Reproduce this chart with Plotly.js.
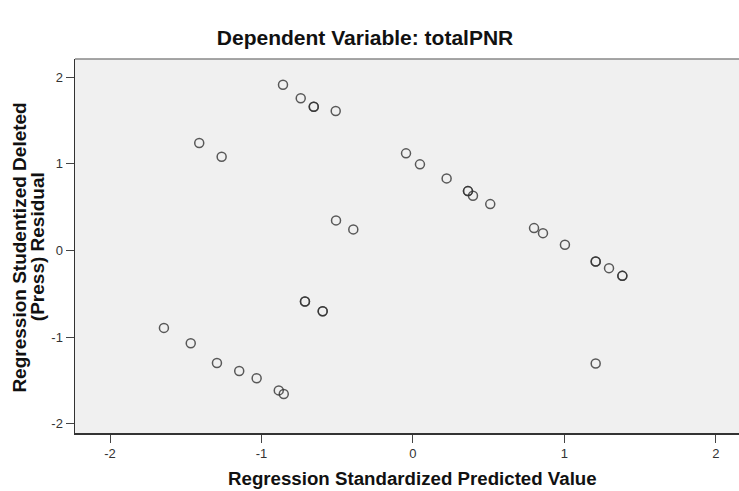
<!DOCTYPE html>
<html>
<head>
<meta charset="utf-8">
<script src="https://cdn.plot.ly/plotly-3.0.1.min.js"></script>
<style>html,body{margin:0;padding:0;background:#fff;}#chart{width:739px;height:491px;}</style>
</head>
<body>
<div id="chart"></div>
<script>
// Regression Standardized Predicted Value (x) vs Studentized Deleted (Press) Residual (y)
const predicted = [
  -0.858, -0.741, -0.655, -0.655, -0.510, -1.411, -1.263,
  -0.046, 0.046, 0.222, 0.363, 0.363, 0.396, 0.510, 0.799, 0.858, 1.003,
  1.206, 1.206, 1.294, 1.382, 1.382,
  -0.508, -0.394, -0.713, -0.713, -0.596, -0.596,
  -1.644, -1.467, -1.294, -1.147, -1.032, -0.886, -0.853, 1.206
];
const residual = [
  1.914, 1.757, 1.660, 1.660, 1.611, 1.241, 1.083,
  1.122, 0.995, 0.833, 0.686, 0.686, 0.632, 0.536, 0.259, 0.201, 0.066,
  -0.126, -0.126, -0.203, -0.292, -0.292,
  0.348, 0.244, -0.588, -0.588, -0.700, -0.700,
  -0.893, -1.070, -1.298, -1.390, -1.474, -1.614, -1.656, -1.304
];
const xTickVals = [-2, -1, 0, 1, 2];
const xTickText = ["-2", "-1", "0", "1", "2"];
const yTickVals = [-2, -1, 0, 1, 2];
const yTickText = ["-2", "-1", "0", "1", "2"];
const chartTitle = "Dependent Variable: totalPNR";
const xTitle = "Regression Standardized Predicted Value";
const yTitleLines = ["Regression Studentized Deleted", "(Press) Residual"];

const trace = {
  x: predicted, y: residual, type: 'scatter', mode: 'markers',
  marker: {symbol: 'circle-open', size: 9, color: 'rgba(50,50,50,0.8)', line: {width: 1.5, color: 'rgba(50,50,50,0.8)'}},
  hoverinfo: 'x+y', showlegend: false
};

const font = "'Liberation Sans', Arial, sans-serif";
const layout = {
  width: 739, height: 491,
  margin: {l: 75, r: 0, t: 59, b: 58},
  paper_bgcolor: '#ffffff', plot_bgcolor: '#f0f0f0',
  font: {family: font, color: '#222'},
  title: {text: '<b>' + chartTitle + '</b>', font: {family: font, size: 21, color: '#111'},
          xref: 'container', yref: 'container', x: 0.494, xanchor: 'center', y: 0.9226, yanchor: 'middle'},
  xaxis: {
    range: [-2.231, 2.152], tickvals: xTickVals, ticktext: xTickText,
    showgrid: false, zeroline: false, showline: true, linecolor: '#333', linewidth: 1.5,
    ticks: 'outside', ticklen: 8, tickcolor: '#444', tickwidth: 1,
    tickfont: {family: font, size: 13, color: '#333'}
  },
  yaxis: {
    range: [-2.106, 2.211], tickvals: yTickVals, ticktext: yTickText,
    showgrid: false, zeroline: false, showline: true, linecolor: '#333', linewidth: 1.5,
    ticks: 'outside', ticklen: 8, tickcolor: '#444', tickwidth: 1,
    tickfont: {family: font, size: 13, color: '#333'}
  },
  annotations: [
    {text: '<b>' + xTitle + '</b>', xref: 'paper', yref: 'paper', x: 0.509, y: -0.1212,
     xanchor: 'center', yanchor: 'middle', showarrow: false, font: {family: font, size: 18.7, color: '#111'}},
    {text: '<b>' + yTitleLines[0] + '</b>', xref: 'paper', yref: 'paper', x: -0.0836, y: 0.497, textangle: -90,
     xanchor: 'center', yanchor: 'middle', showarrow: false, font: {family: font, size: 19, color: '#111'}},
    {text: '<b>' + yTitleLines[1] + '</b>', xref: 'paper', yref: 'paper', x: -0.0572, y: 0.497, textangle: -90,
     xanchor: 'center', yanchor: 'middle', showarrow: false, font: {family: font, size: 19, color: '#111'}}
  ],
  shapes: [{type: 'line', xref: 'paper', yref: 'paper', x0: 0, x1: 1, y0: 1, y1: 1, line: {color: '#888', width: 1.5}}]
};
Plotly.newPlot('chart', [trace], layout, {displayModeBar: false, staticPlot: true});
</script>
</body>
</html>
